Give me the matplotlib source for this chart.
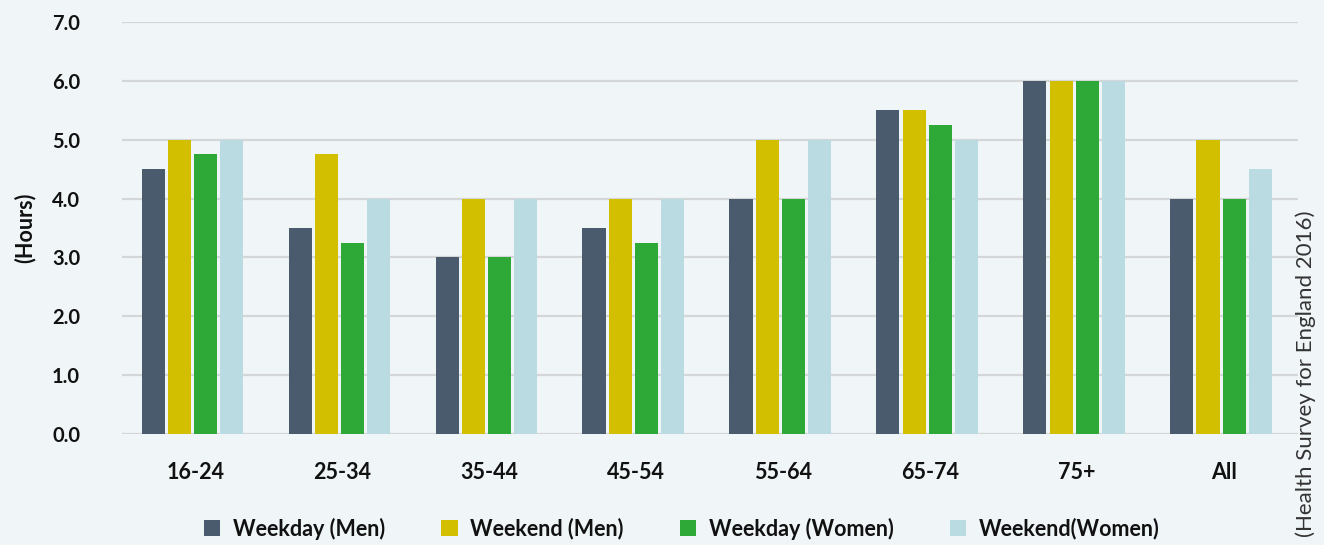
import matplotlib
matplotlib.use("Agg")
import matplotlib.pyplot as plt
import numpy as np

categories = ["16-24", "25-34", "35-44", "45-54", "55-64", "65-74", "75+", "All"]
weekday_men = [4.5, 3.5, 3.0, 3.5, 4.0, 5.5, 6.0, 4.0]
weekend_men = [5.0, 4.75, 4.0, 4.0, 5.0, 5.5, 6.0, 5.0]
weekday_women = [4.75, 3.25, 3.0, 3.25, 4.0, 5.25, 6.0, 4.0]
weekend_women = [5.0, 4.0, 4.0, 4.0, 5.0, 5.0, 6.0, 4.5]
series_names = ["Weekday (Men)", "Weekend (Men)", "Weekday (Women)", "Weekend(Women)"]
y_ticks = [0, 1, 2, 3, 4, 5, 6, 7]

colors = ["#495b6d", "#d2bf00", "#2ea836", "#badbe1"]
bg = "#f0f5f8"
plt.rcParams['font.family'] = ['Lato', 'DejaVu Sans']

fig = plt.figure(figsize=(13.24, 5.45), dpi=100, facecolor=bg)
ax = fig.add_axes([0.092, 0.2037, 0.888, 0.7559], facecolor=bg)

x = np.arange(len(categories))
step = 0.178
width = 0.157
data = [weekday_men, weekend_men, weekday_women, weekend_women]
for i, (vals, name, c) in enumerate(zip(data, series_names, colors)):
    ax.bar(x + (i - 1.5) * step - 0.02, vals, width, color=c, label=name, zorder=3)

ax.set_xlim(-0.5, len(categories) - 0.5)
ax.set_ylim(0, 7.0)
ax.set_yticks(y_ticks)
ax.set_yticklabels([f"{v:.1f}" for v in y_ticks])
ax.set_xticks(x)
ax.set_xticklabels(categories)
ax.grid(axis='y', color='#d4d6d8', linewidth=1.6, zorder=0)
for s in ax.spines.values():
    s.set_visible(False)
ax.tick_params(axis='both', length=0, colors='#111111')
ax.tick_params(axis='x', pad=20, labelsize=15.5)
ax.tick_params(axis='y', pad=30, labelsize=14.5)
for lbl in ax.get_xticklabels() + ax.get_yticklabels():
    lbl.set_fontweight('bold')

ax.set_ylabel("(Hours)", fontsize=15.5, fontweight='bold', labelpad=12, color='#111111')

fig.text(0.986, 0.315, "(Health Survey for England 2016)", rotation=90,
         ha='center', va='center', fontsize=16, color='#333333')

leg = fig.legend(loc='center', bbox_to_anchor=(0.515, 0.03), ncol=4, frameon=False,
                 fontsize=15.5, handlelength=0.75, handleheight=0.75, columnspacing=2.6,
                 handletextpad=0.6)
for t in leg.get_texts():
    t.set_fontweight('bold')
    t.set_color('#111111')

fig.savefig("out.png", dpi=100, facecolor=bg)
